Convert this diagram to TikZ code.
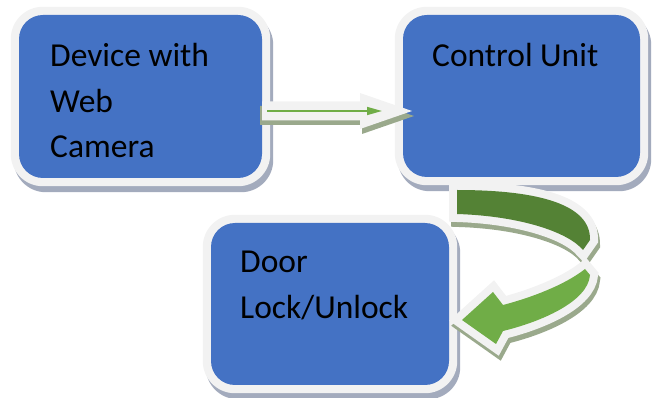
\documentclass[tikz,border=0pt]{standalone}
\usepackage{fontspec}
\setmainfont{Carlito}
\usetikzlibrary{arrows.meta}
\definecolor{boxblue}{HTML}{4472C4}
\definecolor{rim}{HTML}{F2F2F2}
\definecolor{boxshade}{HTML}{A3ABBD}
\definecolor{darkgr}{HTML}{548235}
\definecolor{lightgr}{HTML}{70AD47}
\definecolor{arrshade}{HTML}{9AA98C}
\begin{document}
\begin{tikzpicture}[x=1pt,y=-1pt,
  bluebox/.style={fill=boxblue, draw=none, rounded corners=24pt, inner sep=0pt},
  rimfill/.style={fill=rim, rounded corners=32pt},
  shadefill/.style={fill=boxshade, rounded corners=32pt},
  boxtext/.style={anchor=base west, inner sep=0pt, font=\fontsize{33.5}{45.5}\selectfont, text=black},
  dband/.style={insert path={(457,190) .. controls (540,190) and (591,205) .. (590,240) -- (583,250) .. controls (568,232) and (520,216) .. (457,214) -- cycle}},
  lband/.style={insert path={(585,269) .. controls (565,285) and (530,298) .. (503,305) -- (493,292) -- (462,320) -- (496,344) -- (503,331) .. controls (540,322) and (588,302) .. (590,275) -- cycle}},
  outline/.style={line width=16pt, line join=miter, miter limit=2}
]
\useasboundingbox (0,0) rectangle (654,398);

% blue boxes (nodes)
\node[bluebox, minimum width=243pt, minimum height=163pt] (b1) at (140.5,96.5) {};
\node[bluebox, minimum width=237pt, minimum height=162pt] (b2) at (521.5,96) {};
\node[bluebox, minimum width=238pt, minimum height=162pt] (b3) at (330,304) {};

% shadows and rims behind the boxes
\foreach \b in {b1,b2,b3}{
  \fill[shadefill] ([shift={(-5,-2)}]\b.north west) rectangle ([shift={(11,14)}]\b.south east);
  \fill[rimfill] ([shift={(-8,-8)}]\b.north west) rectangle ([shift={(8,8)}]\b.south east);
}
% blue faces on top
\node[bluebox, minimum width=243pt, minimum height=163pt] at (b1) {};
\node[bluebox, minimum width=237pt, minimum height=162pt] at (b2) {};
\node[bluebox, minimum width=238pt, minimum height=162pt] at (b3) {};

% texts
\node[boxtext] (t1) at (50,67) {\begin{tabular}[t]{@{}l@{}}Device with\\Web\\Camera\end{tabular}};
\node[boxtext] (t2) at (432,67) {Control Unit};
\node[boxtext] (t3) at (240,273) {\begin{tabular}[t]{@{}l@{}}Door\\Lock/Unlock\end{tabular}};

% straight block arrow from b1 to b2
\coordinate (s2) at (412,111);
\fill[arrshade] (260,106) -- (362,106) -- (362,98) -- (414,116) -- (362,134) -- (362,125) -- (260,125) -- cycle;
\fill[rim] (262,101.5) -- (360,101.5) -- (360,93) -- (s2) -- (360,129) -- (360,120.5) -- (262,120.5) -- cycle;
\coordinate (g1) at (267,111);
\coordinate (g2) at (382,111);
\draw[lightgr, line width=1.5pt, -{Triangle[length=15pt,width=8pt]}] (g1) -- (g2);

% curved arrow from b2 to b3
\begin{scope}[shift={(2,5)}]
  \filldraw[fill=arrshade, draw=arrshade, outline] [dband];
  \filldraw[fill=arrshade, draw=arrshade, outline] [lband];
\end{scope}
\filldraw[fill=rim, draw=rim, outline] [dband];
\filldraw[fill=rim, draw=rim, outline] [lband];
\fill[darkgr] [dband];
\fill[lightgr] [lband];
\end{tikzpicture}
\end{document}
